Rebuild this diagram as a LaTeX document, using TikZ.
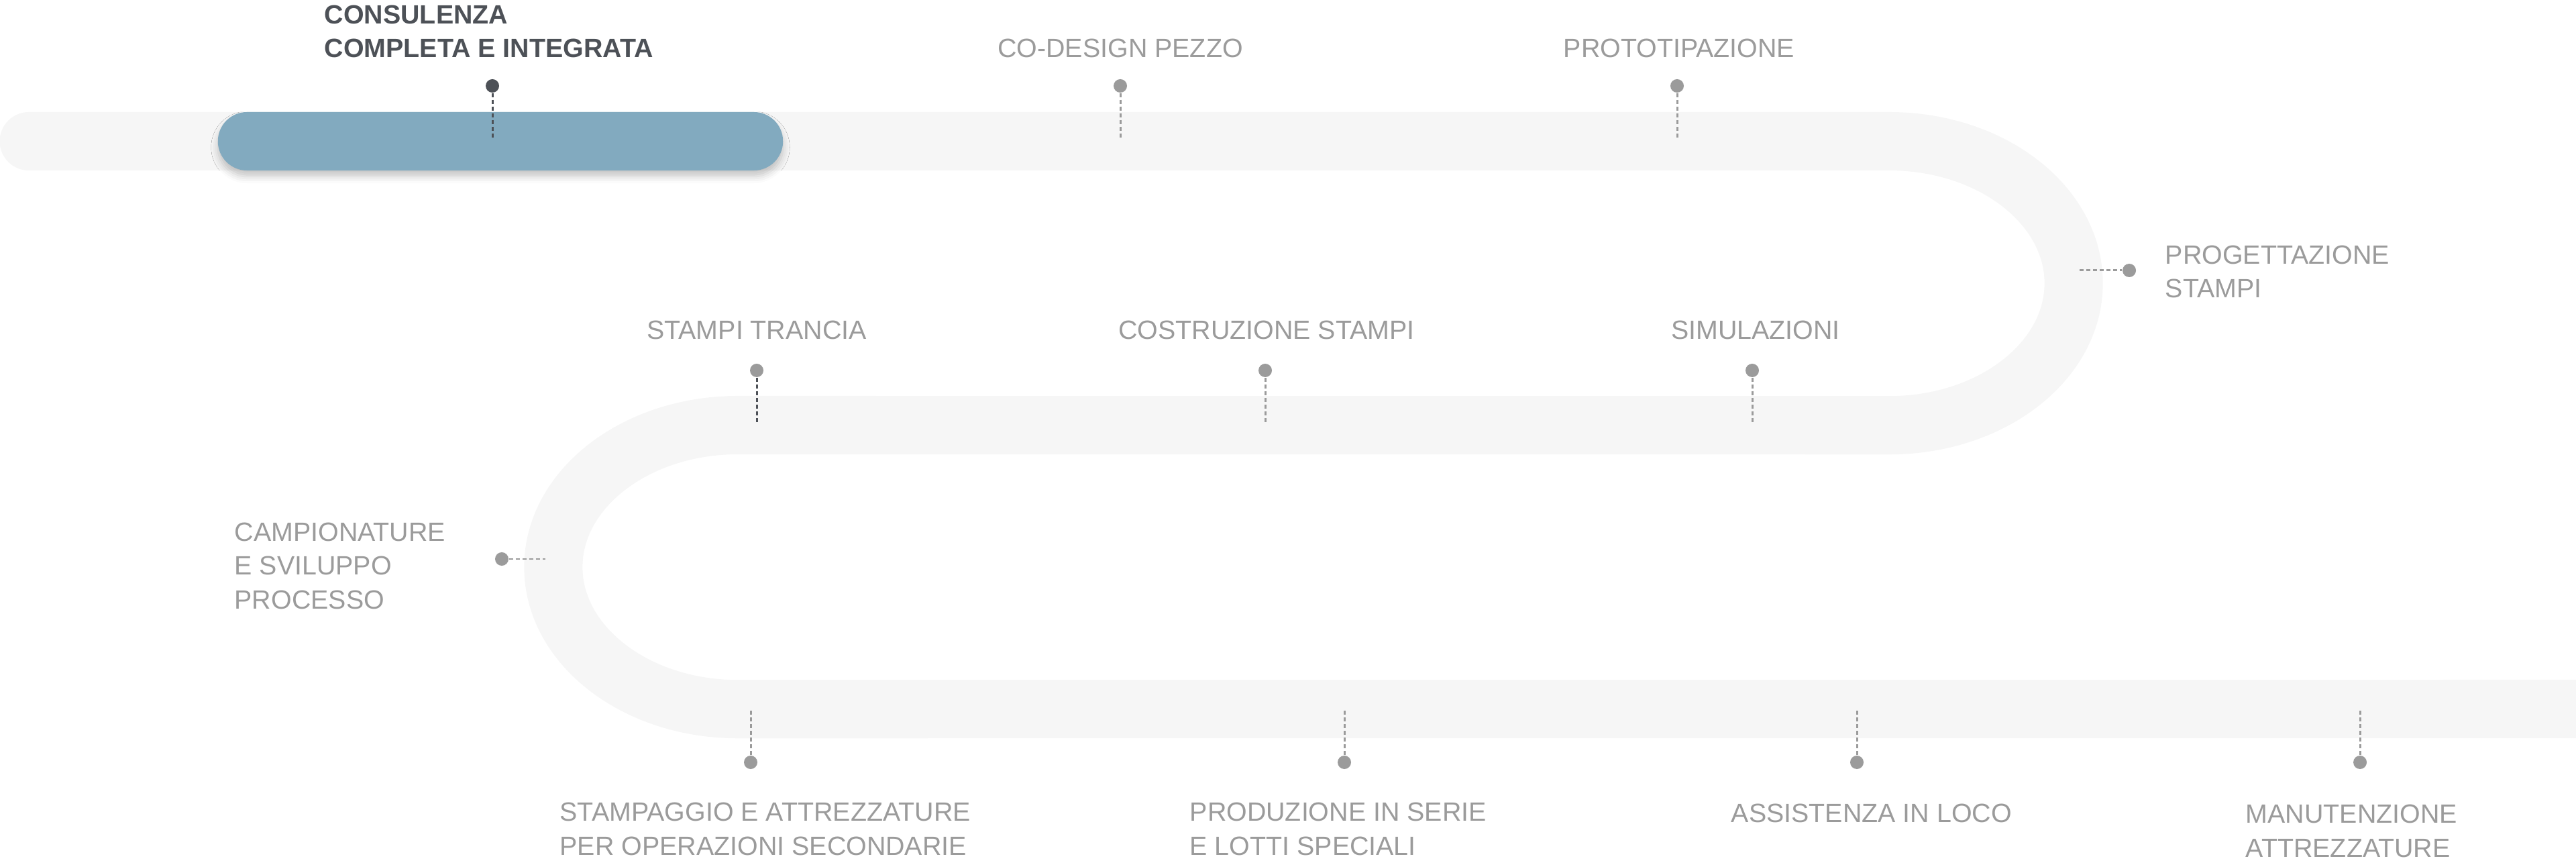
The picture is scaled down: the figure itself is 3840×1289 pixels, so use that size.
\documentclass[tikz,border=0pt]{standalone}
\usepackage{fontspec}
\setmainfont{Liberation Sans}
\usepackage{tikz}
\usetikzlibrary{shapes.misc}
\usetikzlibrary{shadows.blur}
\definecolor{track}{HTML}{F6F6F6}
\definecolor{ink}{HTML}{4D5157}
\definecolor{mute}{HTML}{9B9B9B}
\definecolor{pillblue}{HTML}{82AABF}

\begin{document}
\begin{tikzpicture}[x=0.01cm,y=-0.01cm,
  every node/.style={font=\fontsize{11.2}{14.23}\selectfont,inner sep=0pt,text=mute},
  dot/.style={circle,fill=mute,minimum size=0.2cm},
  leader/.style={mute,line width=0.85pt,dash pattern=on 1.75pt off 1.1pt},
  lbl/.style={align=left,anchor=base west},
  strong/.style={text=ink,font=\fontsize{11.2}{14.23}\selectfont\bfseries},
  pill/.style={rounded rectangle,fill=pillblue,minimum width=8.42cm,minimum height=0.87cm,
    blur shadow={shadow xshift=0pt,shadow yshift=-0.09cm,shadow blur radius=0.1cm,shadow opacity=22}}]
  \useasboundingbox (0,0) rectangle (3840,1289);

  \draw[track,line width=0.87cm,line cap=round] (43,210.5) -- (2816,210.5)
    arc[start angle=90,end angle=-90,x radius=2.75cm,y radius=2.115cm] -- (1100,633.5)
    arc[start angle=90,end angle=270,x radius=2.75cm,y radius=2.115cm] -- (3900,1056.5);
  \node[pill] (active) at (746,210.5) {};

  \node[dot,fill=ink] (consul) at (734,128) {};
  \node[dot] (codesign) at (1670,128) {};
  \node[dot] (proto) at (2500,128) {};
  \node[dot] (progett) at (3174,403) {};
  \node[dot] (trancia) at (1128,552) {};
  \node[dot] (costr) at (1886,552) {};
  \node[dot] (simul) at (2612,552) {};
  \node[dot] (campion) at (748,833) {};
  \node[dot] (stampag) at (1119,1136) {};
  \node[dot] (produz) at (2004,1136) {};
  \node[dot] (assist) at (2768,1136) {};
  \node[dot] (manut) at (3518,1136) {};

  \coordinate (consul-e) at (734,206);
  \coordinate (codesign-e) at (1670,206);
  \coordinate (proto-e) at (2500,206);
  \coordinate (progett-e) at (3100,403);
  \coordinate (trancia-e) at (1128,629);
  \coordinate (costr-e) at (1886,629);
  \coordinate (simul-e) at (2612,629);
  \coordinate (campion-e) at (813,833);
  \coordinate (stampag-e) at (1119,1059);
  \coordinate (produz-e) at (2004,1059);
  \coordinate (assist-e) at (2768,1059);
  \coordinate (manut-e) at (3518,1059);

  \draw[leader,ink](consul)--(consul-e);
  \draw[leader](codesign)--(codesign-e);
  \draw[leader](proto)--(proto-e);
  \draw[leader](progett-e)--(progett);
  \draw[leader,ink](trancia)--(trancia-e);
  \draw[leader](costr)--(costr-e);
  \draw[leader](simul)--(simul-e);
  \draw[leader](campion)--(campion-e);
  \draw[leader](stampag-e)--(stampag);
  \draw[leader](produz-e)--(produz);
  \draw[leader](assist-e)--(assist);
  \draw[leader](manut-e)--(manut);

  \node[lbl,strong] (consul-t) at (483,86) {CONSULENZA\\COMPLETA E INTEGRATA};
  \node[anchor=base] (codesign-t) at (1670,86) {CO-DESIGN PEZZO};
  \node[anchor=base] (proto-t) at (2503,86) {PROTOTIPAZIONE};
  \node[lbl] (progett-t) at (3227,444) {PROGETTAZIONE\\STAMPI};
  \node[anchor=base] (trancia-t) at (1128,506) {STAMPI TRANCIA};
  \node[anchor=base] (costr-t) at (1888,506) {COSTRUZIONE STAMPI};
  \node[anchor=base] (simul-t) at (2617,506) {SIMULAZIONI};
  \node[lbl] (campion-t) at (349,907) {CAMPIONATURE\\E SVILUPPO\\PROCESSO};
  \node[lbl] (stampag-t) at (834,1274) {STAMPAGGIO E ATTREZZATURE\\PER OPERAZIONI SECONDARIE};
  \node[lbl] (produz-t) at (1773,1274) {PRODUZIONE IN SERIE\\E LOTTI SPECIALI};
  \node[lbl] (assist-t) at (2580,1225) {ASSISTENZA IN LOCO};
  \node[lbl] (manut-t) at (3347,1277) {MANUTENZIONE\\ATTREZZATURE};
\end{tikzpicture}
\end{document}
